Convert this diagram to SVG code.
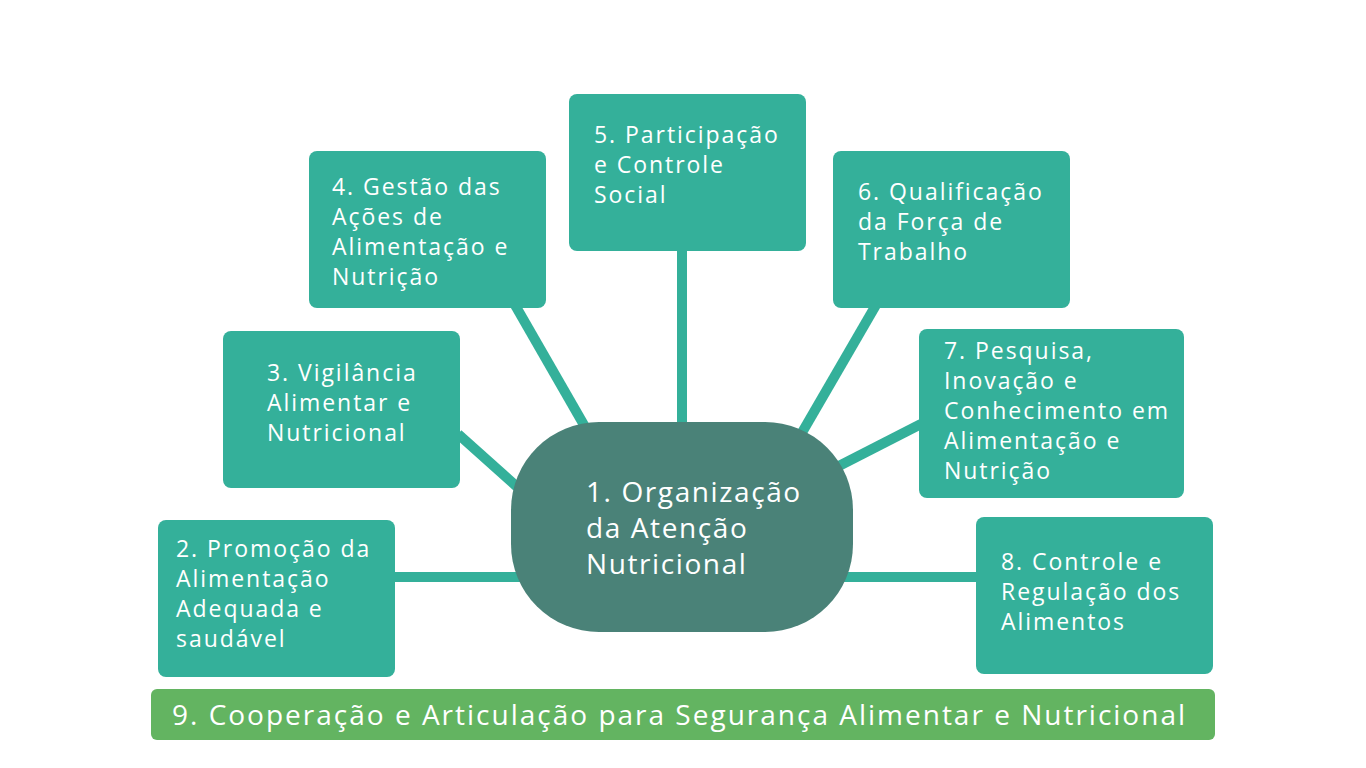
<svg xmlns="http://www.w3.org/2000/svg" width="1366" height="768" viewBox="0 0 1366 768">
<style>
.box{fill:#34b09a}
.t{font-family:"Open Sans","DejaVu Sans",sans-serif;font-size:23px;fill:#ffffff;letter-spacing:1.95px}
.tc{font-family:"Open Sans","DejaVu Sans",sans-serif;font-size:28px;fill:#ffffff;letter-spacing:1.6px}
.tb{font-family:"Open Sans","DejaVu Sans",sans-serif;font-size:28px;fill:#ffffff;letter-spacing:2px}
.c{stroke:#34b09a;stroke-width:10;fill:none}
</style>
<rect width="1366" height="768" fill="#ffffff"/>
<g id="connectors">
<line class="c" x1="395" y1="577" x2="530" y2="577"/>
<line class="c" x1="458" y1="434" x2="525" y2="494"/>
<line class="c" x1="515" y1="305" x2="588" y2="432"/>
<line class="c" x1="682" y1="250" x2="682" y2="430"/>
<line class="c" x1="876" y1="305" x2="800" y2="436"/>
<line class="c" x1="921" y1="424" x2="835" y2="468"/>
<line class="c" x1="840" y1="577" x2="978" y2="577"/>
</g>
<g id="node1">
<rect x="511" y="422" width="342" height="210" rx="88" ry="88" fill="#4a8278"/>
<text class="tc"><tspan x="586" y="502">1. Organização</tspan><tspan x="586" y="538">da Atenção</tspan><tspan x="586" y="574">Nutricional</tspan></text>
</g>
<g id="node2">
<rect class="box" x="158" y="520" width="237" height="157" rx="8"/>
<text class="t"><tspan x="176" y="557">2. Promoção da</tspan><tspan x="176" y="587">Alimentação</tspan><tspan x="176" y="617">Adequada e</tspan><tspan x="176" y="647">saudável</tspan></text>
</g>
<g id="node3">
<rect class="box" x="223" y="331" width="237" height="157" rx="8"/>
<text class="t"><tspan x="267" y="381">3. Vigilância</tspan><tspan x="267" y="411">Alimentar e</tspan><tspan x="267" y="441">Nutricional</tspan></text>
</g>
<g id="node4">
<rect class="box" x="309" y="151" width="237" height="157" rx="8"/>
<text class="t"><tspan x="332" y="195">4. Gestão das</tspan><tspan x="332" y="225">Ações de</tspan><tspan x="332" y="255">Alimentação e</tspan><tspan x="332" y="285">Nutrição</tspan></text>
</g>
<g id="node5">
<rect class="box" x="569" y="94" width="237" height="157" rx="8"/>
<text class="t"><tspan x="594" y="143">5. Participação</tspan><tspan x="594" y="173">e Controle</tspan><tspan x="594" y="203">Social</tspan></text>
</g>
<g id="node6">
<rect class="box" x="833" y="151" width="237" height="157" rx="8"/>
<text class="t"><tspan x="858" y="200">6. Qualificação</tspan><tspan x="858" y="230">da Força de</tspan><tspan x="858" y="260">Trabalho</tspan></text>
</g>
<g id="node7">
<rect class="box" x="919" y="329" width="265" height="169" rx="8"/>
<text class="t"><tspan x="944" y="359">7. Pesquisa,</tspan><tspan x="944" y="389">Inovação e</tspan><tspan x="944" y="419">Conhecimento em</tspan><tspan x="944" y="449">Alimentação e</tspan><tspan x="944" y="479">Nutrição</tspan></text>
</g>
<g id="node8">
<rect class="box" x="976" y="517" width="237" height="157" rx="8"/>
<text class="t"><tspan x="1001" y="570">8. Controle e</tspan><tspan x="1001" y="600">Regulação dos</tspan><tspan x="1001" y="630">Alimentos</tspan></text>
</g>
<g id="node9">
<rect x="151" y="689" width="1064" height="51" rx="6" fill="#63b461"/>
<text class="tb" x="172" y="725">9. Cooperação e Articulação para Segurança Alimentar e Nutricional</text>
</g>
</svg>
